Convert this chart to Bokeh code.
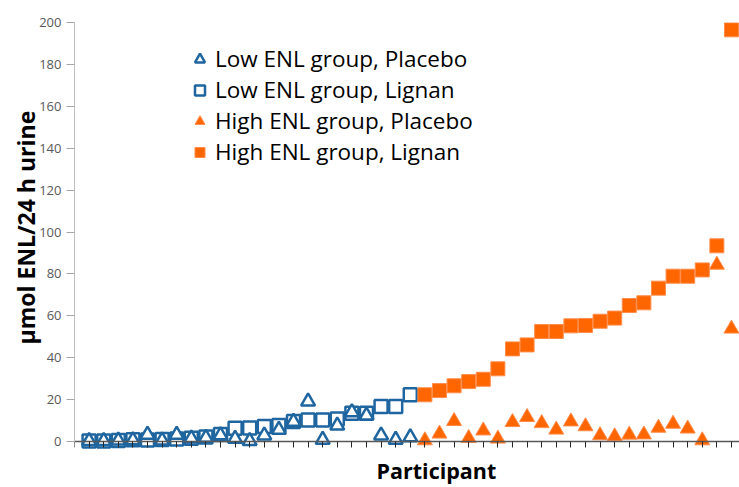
import math
from bokeh.plotting import figure
from bokeh.models import (Range1d, FixedTicker, Legend, LegendItem, Title,
                          ColumnDataSource)
from bokeh.embed import file_html
from bokeh.resources import INLINE

# ---------------- data ----------------
low_participants = list(range(1, 24))
high_participants = list(range(24, 46))

low_placebo = [0.3, 0.3, 0.5, 0.6, 3.3, 0.5, 3.2, 1.5, 1.8, 3.0, 1.3, 0.2,
               2.9, 5.6, 9.5, 19.1, 0.8, 7.6, 14.0, 12.4, 2.9, 0.8, 2.0]
low_lignan = [0.2, 0.2, 0.5, 0.8, 0.7, 0.9, 1.2, 1.6, 2.2, 3.3, 6.3, 6.5,
              7.2, 7.6, 9.5, 10.3, 10.3, 10.8, 13.5, 13.5, 16.7, 16.7, 22.3]
high_placebo = [0.5, 3.7, 9.7, 1.6, 5.2, 1.3, 9.2, 11.6, 8.7, 5.6, 9.5,
                7.2, 2.9, 2.4, 3.2, 3.3, 6.5, 8.4, 6.1, 0.5, 84.3, 53.8]
high_lignan = [22.3, 24.3, 26.6, 28.6, 29.7, 34.7, 44.2, 46.1, 52.5, 52.5, 55.2,
               55.4, 57.4, 58.9, 64.9, 66.2, 73.2, 78.9, 78.9, 81.9, 93.4, 196.5]

y_ticks = [0, 20, 40, 60, 80, 100, 120, 140, 160, 180, 200]
x_ticks = list(range(0, 46))
series_names = ["Low ENL group, Placebo", "Low ENL group, Lignan",
                "High ENL group, Placebo", "High ENL group, Lignan"]
x_title = "Participant"
y_title = "\u00b5mol ENL/24 h urine"

BLUE = "#1f66a0"
ORANGE = "#ff6600"
FONT = "Open Sans"

# ---------------- figure ----------------
p = figure(width=739, height=487, output_backend="svg", toolbar_location=None,
           x_range=Range1d(0, 45.55), y_range=Range1d(-5.25, 200),
           min_border_left=74, min_border_right=0, min_border_top=22,
           min_border_bottom=35)
p.outline_line_color = None
p.grid.visible = False
p.background_fill_color = "white"
p.border_fill_color = "white"

# y axis
yax = p.yaxis[0]
yax.ticker = FixedTicker(ticks=y_ticks)
yax.bounds = (0, 200)
yax.axis_line_color = "#bfbfbf"
yax.axis_line_width = 1
yax.major_tick_out = 8
yax.major_tick_in = 0
yax.major_tick_line_color = "#a6a6a6"
yax.minor_tick_line_color = None
yax.major_label_text_font = FONT
yax.major_label_text_font_size = "13px"
yax.major_label_text_color = "#595959"
yax.major_label_standoff = 5

# x axis at y = 0 (category tick marks only)
xax = p.xaxis[0]
xax.fixed_location = 0
xax.ticker = FixedTicker(ticks=[], minor_ticks=x_ticks)
xax.axis_line_color = "#595959"
xax.axis_line_width = 1.5
xax.major_tick_line_color = None
xax.minor_tick_out = 6
xax.minor_tick_in = 0
xax.minor_tick_line_color = "#262626"
xax.minor_tick_line_width = 1

# ---------------- glyphs ----------------
src_lp = ColumnDataSource(dict(x=low_participants, y=low_placebo))
src_ll = ColumnDataSource(dict(x=low_participants, y=low_lignan))
src_hp = ColumnDataSource(dict(x=high_participants, y=high_placebo))
src_hl = ColumnDataSource(dict(x=high_participants, y=high_lignan))

r_ll = p.scatter("x", "y", source=src_ll, marker="square", size=13,
                 fill_color="white", line_color=BLUE, line_width=2.5)
r_lp = p.scatter("x", "y", source=src_lp, marker="triangle", size=14,
                 fill_color="white", line_color=BLUE, line_width=2.5)
r_hp = p.scatter("x", "y", source=src_hp, marker="triangle", size=15,
                 fill_color=ORANGE, line_color="#ff8c4a", line_width=1)
r_hl = p.scatter("x", "y", source=src_hl, marker="square", size=14,
                 fill_color=ORANGE, line_color="#ff8c4a", line_width=1)

legend = Legend(items=[LegendItem(label=series_names[0], renderers=[r_lp]),
                       LegendItem(label=series_names[1], renderers=[r_ll]),
                       LegendItem(label=series_names[2], renderers=[r_hp]),
                       LegendItem(label=series_names[3], renderers=[r_hl])],
                location=(113, 285))
legend.border_line_color = None
legend.background_fill_alpha = 0
legend.padding = 0
legend.margin = 0
legend.spacing = 0
legend.glyph_width = 25
legend.glyph_height = 26
legend.label_height = 26
legend.label_standoff = 3
legend.label_text_font = FONT
legend.label_text_font_size = "22.5px"
legend.label_text_color = "black"
p.add_layout(legend)

xt = Title(text=x_title, align="left", offset=302, text_font=FONT,
           text_font_style="bold", text_font_size="21.5px", text_color="black",
           standoff=3)
p.add_layout(xt, "below")

yt = Title(text=y_title, align="left", offset=108, text_font=FONT,
           text_font_style="bold", text_font_size="23px", text_color="black",
           standoff=-10)
p.add_layout(yt, "left")

open("out.html", "w").write(file_html(p, INLINE))
